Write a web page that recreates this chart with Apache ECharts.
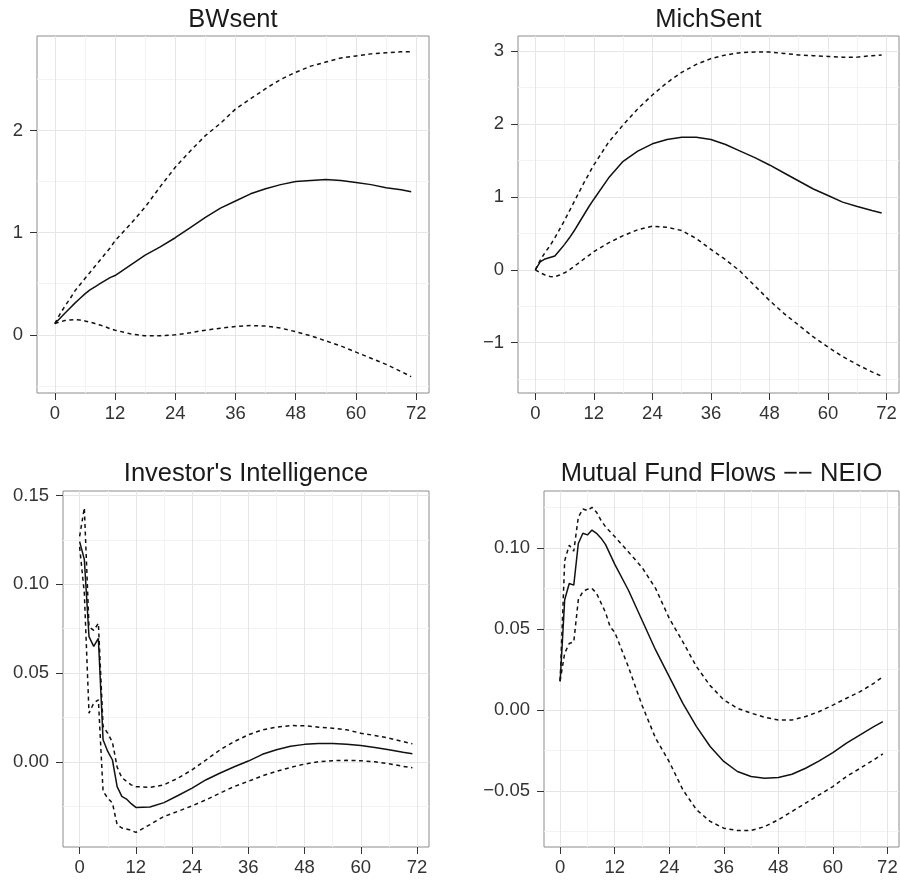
<!DOCTYPE html>
<html lang="en">
<head>
  <meta charset="UTF-8">
  <title>Impulse responses</title>
  <style>
    html, body { margin: 0; padding: 0; background: #fff; }
    #chart { width: 900px; height: 884px; }
  </style>
</head>
<body>
  <div id="chart"></div>
  <script src="https://cdn.jsdelivr.net/npm/echarts@6.0.0/dist/echarts.min.js"></script>
  <script>
  const months = [0, 1, 2, 3, 4, 5, 6, 7, 8, 9, 10, 11, 12, 15, 18, 21, 24, 27, 30, 33, 36, 39, 42, 45, 48, 51, 54, 57, 60, 63, 66, 69, 71];

  // BWsent
  const bwMid = [0.11, 0.16, 0.21, 0.26, 0.31, 0.355, 0.40, 0.44, 0.47, 0.50, 0.53, 0.56, 0.58, 0.68, 0.78, 0.86, 0.95, 1.05, 1.15, 1.24, 1.31, 1.38, 1.43, 1.47, 1.50, 1.51, 1.52, 1.51, 1.49, 1.47, 1.44, 1.42, 1.40];
  const bwUp = [0.11, 0.20, 0.28, 0.35, 0.43, 0.49, 0.55, 0.61, 0.67, 0.73, 0.79, 0.85, 0.92, 1.08, 1.25, 1.45, 1.64, 1.80, 1.95, 2.07, 2.21, 2.31, 2.41, 2.50, 2.57, 2.63, 2.67, 2.71, 2.73, 2.75, 2.76, 2.77, 2.77];
  const bwLo = [0.11, 0.125, 0.14, 0.145, 0.148, 0.145, 0.135, 0.125, 0.11, 0.095, 0.08, 0.06, 0.045, 0.01, -0.01, -0.01, 0.0, 0.02, 0.045, 0.065, 0.08, 0.09, 0.085, 0.065, 0.03, -0.01, -0.06, -0.11, -0.17, -0.23, -0.29, -0.36, -0.41];

  // MichSent
  const msMid = [0.0, 0.11, 0.15, 0.17, 0.19, 0.27, 0.35, 0.44, 0.54, 0.65, 0.76, 0.87, 0.97, 1.26, 1.49, 1.63, 1.73, 1.79, 1.82, 1.82, 1.79, 1.72, 1.63, 1.54, 1.44, 1.33, 1.22, 1.11, 1.02, 0.93, 0.87, 0.815, 0.78];
  const msUp = [0.0, 0.13, 0.24, 0.33, 0.44, 0.56, 0.68, 0.81, 0.94, 1.07, 1.20, 1.32, 1.44, 1.75, 1.99, 2.21, 2.40, 2.57, 2.71, 2.82, 2.90, 2.95, 2.98, 2.99, 2.99, 2.97, 2.95, 2.94, 2.93, 2.92, 2.92, 2.94, 2.95];
  const msLo = [0.0, -0.04, -0.07, -0.09, -0.095, -0.07, -0.04, 0.0, 0.05, 0.10, 0.15, 0.20, 0.25, 0.37, 0.47, 0.55, 0.60, 0.585, 0.54, 0.43, 0.28, 0.14, -0.02, -0.22, -0.42, -0.60, -0.76, -0.92, -1.06, -1.19, -1.30, -1.40, -1.46];

  // Investor's Intelligence
  const iiMid = [0.124, 0.114, 0.0705, 0.065, 0.0695, 0.0124, 0.0058, 0.001, -0.014, -0.0195, -0.021, -0.0236, -0.0257, -0.0255, -0.023, -0.019, -0.0148, -0.0101, -0.0063, -0.0028, 0.0004, 0.0042, 0.0068, 0.0087, 0.0098, 0.0103, 0.0103, 0.0099, 0.0092, 0.0081, 0.0068, 0.0054, 0.0045];
  const iiUp = [0.127, 0.143, 0.076, 0.074, 0.078, 0.020, 0.016, 0.011, -0.003, -0.009, -0.011, -0.013, -0.014, -0.0144, -0.013, -0.0092, -0.0045, 0.0011, 0.0068, 0.0114, 0.0152, 0.018, 0.0195, 0.0204, 0.0203, 0.0195, 0.0189, 0.018, 0.0161, 0.0148, 0.0133, 0.0114, 0.0101];
  const iiLo = [0.121, 0.095, 0.0274, 0.033, 0.0349, -0.0167, -0.0204, -0.0233, -0.0354, -0.0373, -0.0379, -0.0386, -0.0398, -0.0354, -0.0308, -0.0279, -0.0248, -0.0214, -0.0176, -0.0139, -0.011, -0.0079, -0.0054, -0.0032, -0.0013, 0.0, 0.0006, 0.0008, 0.0006, 0.0, -0.0011, -0.0026, -0.0034];

  // Mutual Fund Flows -- NEIO
  const mfMid = [0.0175, 0.068, 0.078, 0.077, 0.1027, 0.109, 0.108, 0.111, 0.109, 0.106, 0.102, 0.096, 0.090, 0.074, 0.0555, 0.037, 0.0205, 0.004, -0.0103, -0.0226, -0.0318, -0.038, -0.0411, -0.0421, -0.0417, -0.0397, -0.036, -0.0314, -0.0263, -0.0205, -0.0154, -0.0103, -0.0072];
  const mfUp = [0.018, 0.092, 0.1017, 0.098, 0.119, 0.124, 0.123, 0.125, 0.122, 0.117, 0.113, 0.110, 0.107, 0.0976, 0.088, 0.075, 0.0565, 0.042, 0.0267, 0.0150, 0.0062, 0.001, -0.002, -0.0045, -0.0062, -0.0062, -0.0041, -0.001, 0.003, 0.0072, 0.0113, 0.0164, 0.0205];
  const mfLo = [0.018, 0.035, 0.041, 0.042, 0.068, 0.073, 0.0745, 0.075, 0.072, 0.066, 0.060, 0.0513, 0.048, 0.0267, 0.003, -0.0175, -0.032, -0.0493, -0.0616, -0.0688, -0.073, -0.0744, -0.0744, -0.072, -0.0678, -0.0627, -0.0575, -0.0524, -0.0473, -0.0411, -0.036, -0.0308, -0.0271];

  const titles = ['BWsent', 'MichSent', "Investor's Intelligence", 'Mutual Fund Flows \u2212\u2212 NEIO'];
  const xTicks = [0, 12, 24, 36, 48, 60, 72];
  const xMinor = [6, 18, 30, 42, 54, 66];
  const yTicks = [[0, 1, 2], [-1, 0, 1, 2, 3], [0, 0.05, 0.10, 0.15], [-0.05, 0, 0.05, 0.10]];
  const yMinor = [[-0.5, 0.5, 1.5, 2.5], [-1.5, -0.5, 0.5, 1.5, 2.5], [-0.025, 0.025, 0.075, 0.125], [-0.075, -0.025, 0.025, 0.075, 0.125]];
  const yDigits = [0, 0, 2, 2];
  const xRange = [-3.55, 74.55];
  const yRange = [[-0.57, 2.925], [-1.69, 3.21], [-0.048, 0.1525], [-0.0846, 0.1351]];

  const panels = [[bwMid, bwUp, bwLo], [msMid, msUp, msLo], [iiMid, iiUp, iiLo], [mfMid, mfUp, mfLo]];

  // panel boxes
  const boxes = [
    { left: 37, top: 36, width: 392, height: 357 },
    { left: 518, top: 36, width: 381, height: 357 },
    { left: 63, top: 491, width: 366, height: 356 },
    { left: 544, top: 491, width: 355, height: 356 }
  ];
  const titleY = [19.5, 474];

  const FONT = 'Liberation Sans, Arial, sans-serif';
  const minus = s => s.replace('-', '\u2212');

  let chart = echarts.init(document.getElementById('chart'), null, { renderer: 'canvas' });

  let grid = [], xAxis = [], yAxis = [], series = [], graphic = [];

  boxes.forEach((b, i) => {
    grid.push(Object.assign({
      show: true, borderColor: '#8c8c8c', borderWidth: 1,
      backgroundColor: 'transparent', containLabel: false, outerBoundsMode: 'none'
    }, b));

    // major axes
    xAxis.push({
      type: 'value', gridIndex: i, min: xRange[0], max: xRange[1], position: 'bottom',
      axisLine: { show: false, onZero: false },
      axisTick: { show: true, length: 7, customValues: xTicks, lineStyle: { color: '#333', width: 1 } },
      axisLabel: { customValues: xTicks, margin: 11, color: '#333', fontSize: 18.5, fontFamily: FONT },
      splitLine: { show: true, lineStyle: { color: '#e6e6e6', width: 1 } }
    });
    yAxis.push({
      type: 'value', gridIndex: i, min: yRange[i][0], max: yRange[i][1], position: 'left',
      axisLine: { show: false, onZero: false },
      axisTick: { show: true, length: 7, customValues: yTicks[i], lineStyle: { color: '#333', width: 1 } },
      axisLabel: {
        customValues: yTicks[i], margin: 14, color: '#333', fontSize: 18.5, fontFamily: FONT,
        formatter: v => minus(Number(v).toFixed(yDigits[i]))
      },
      splitLine: { show: true, lineStyle: { color: '#e6e6e6', width: 1 } }
    });

    graphic.push({
      type: 'text', x: b.left + b.width / 2, y: titleY[i < 2 ? 0 : 1], silent: true,
      style: { text: titles[i], font: '25.5px ' + FONT, fill: '#1a1a1a', textAlign: 'center', textVerticalAlign: 'middle' }
    });
  });

  // minor grid lines on hidden axes
  boxes.forEach((b, i) => {
    xAxis.push({
      type: 'value', gridIndex: i, min: xRange[0], max: xRange[1], position: 'top', z: 0,
      axisLine: { show: false, onZero: false }, axisLabel: { show: false },
      axisTick: { show: false, customValues: xMinor },
      splitLine: { show: true, lineStyle: { color: '#f3f3f3', width: 1 } }
    });
    yAxis.push({
      type: 'value', gridIndex: i, min: yRange[i][0], max: yRange[i][1], position: 'right', z: 0,
      axisLine: { show: false, onZero: false }, axisLabel: { show: false },
      axisTick: { show: false, customValues: yMinor[i] },
      splitLine: { show: true, lineStyle: { color: '#f3f3f3', width: 1 } }
    });
  });

  function pairs(ys) {
    return months.map((m, k) => [m, ys[k]]);
  }

  panels.forEach((p, i) => {
    p.forEach((ys, j) => {
      series.push({
        type: 'line', xAxisIndex: i, yAxisIndex: i, data: pairs(ys),
        showSymbol: false, symbol: 'none', silent: true, z: 5,
        lineStyle: { color: '#111', width: 1.5, type: j === 0 ? 'solid' : [4, 3.5] }
      });
    });
  });

  chart.setOption({
    animation: false,
    backgroundColor: '#fff',
    grid: grid,
    xAxis: xAxis,
    yAxis: yAxis,
    series: series,
    graphic: graphic
  });
  </script>
</body>
</html>
